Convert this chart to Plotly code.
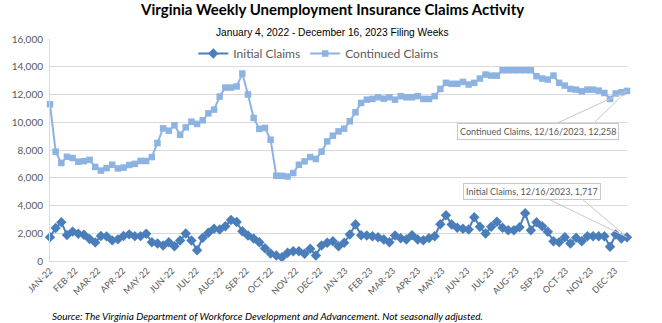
import plotly.graph_objects as go
import pandas as pd

# ---- data ----
last_week = "2023-12-16"
n_weeks = 103
initial_claims = [
    1718, 2380, 2800, 1870, 2120, 1960, 1890, 1590, 1340, 1800,
    1775, 1485, 1560, 1800, 1920, 1790, 1790, 1960, 1355, 1261,
    1117, 1355, 1067, 1477, 1982, 1477, 778, 1672, 2032, 2321,
    2270, 2508, 2960, 2810, 2148, 1838, 1620, 1355, 923, 541,
    396, 274, 591, 706, 706, 519, 879, 396, 1117, 1312,
    1427, 1067, 1312, 1910, 2631, 1860, 1838, 1787, 1715, 1550,
    1355, 1838, 1643, 1550, 1860, 1550, 1499, 1650, 1787, 2650,
    3300, 2631, 2393, 2321, 2270, 3157, 2465, 1982, 2465, 2825,
    2393, 2220, 2220, 2436, 3445, 2220, 2797, 2508, 2104, 1427,
    1355, 1715, 1261, 1672, 1427, 1787, 1787, 1787, 1787, 1024,
    1910, 1622, 1717,
]
continued_claims = [
    11300, 7880, 7060, 7510, 7420, 7160, 7200, 7290, 6780, 6520,
    6690, 6940, 6670, 6730, 6920, 7000, 7210, 7210, 7490, 8500,
    9560, 9390, 9780, 9100, 9630, 10040, 9880, 10140, 10640, 10910,
    11850, 12500, 12500, 12580, 13510, 12000, 10310, 9520, 9590, 8740,
    6140, 6140, 6090, 6340, 6940, 7180, 7490, 7350, 7880, 8620,
    9030, 9340, 9540, 10070, 10720, 11390, 11630, 11680, 11800, 11700,
    11800, 11630, 11880, 11800, 11800, 11880, 11680, 11680, 11880, 12400,
    12840, 12770, 12770, 12910, 12720, 12840, 13150, 13440, 13360, 13360,
    13750, 13750, 13750, 13750, 13750, 13750, 13320, 13150, 13080, 13360,
    12840, 12640, 12400, 12350, 12230, 12350, 12350, 12280, 12110, 11680,
    12070, 12160, 12258,
]
y_ticks = [0, 2000, 4000, 6000, 8000, 10000, 12000, 14000, 16000]
month_ticks = pd.date_range("2022-01-01", "2023-12-01", freq="MS")
month_labels = [d.strftime("%b-%y").upper() for d in month_ticks]

weeks = pd.date_range(end=last_week, periods=n_weeks, freq="7D")

C_INIT = "#4a7ebb"
C_CONT = "#8db3e2"
GRID = "#d9d9d9"
TXT = "#595959"
FONT = "Lato, 'Open Sans', sans-serif"

fig = go.Figure()
fig.add_trace(go.Scatter(
    x=weeks, y=initial_claims, name="Initial Claims", mode="lines+markers",
    line=dict(color=C_INIT, width=2),
    marker=dict(symbol="diamond", size=8, color=C_INIT),
    cliponaxis=False,
))
fig.add_trace(go.Scatter(
    x=weeks, y=continued_claims, name="Continued Claims", mode="lines+markers",
    line=dict(color=C_CONT, width=2),
    marker=dict(symbol="square", size=6.5, color=C_CONT),
    cliponaxis=False,
))

last_x = weeks[-1]
# callout labels with leader lines
callouts = [
    (continued_claims[-1], "Continued Claims, 12/16/2023, {:,}".format(continued_claims[-1]), -89, 41, -35, -34),
    (initial_claims[-1], "Initial Claims, 12/16/2023, {:,}".format(initial_claims[-1]), -95, -46, -47, 40),
]
for yv, txt, ax, ay, sx, sy in callouts:
    fig.add_annotation(
        x=last_x, y=yv, xref="x", yref="y", text=txt,
        showarrow=True, arrowhead=0, arrowwidth=1, arrowcolor="#c8c8c8",
        ax=ax, ay=ay, font=dict(family=FONT, size=9, color=TXT),
        bgcolor="white", bordercolor="#c8c8c8", borderwidth=1, borderpad=2,
    )
    fig.add_shape(
        type="line", xref="x", yref="y", xsizemode="pixel", ysizemode="pixel",
        xanchor=last_x, yanchor=yv, x0=0, y0=0, x1=sx, y1=sy,
        line=dict(color="#c8c8c8", width=1), layer="below",
    )

fig.add_annotation(
    text="<b>Virginia Weekly Unemployment Insurance Claims Activity</b>",
    xref="paper", yref="paper", x=0.489, y=1, yshift=30, xanchor="center", yanchor="middle",
    showarrow=False, font=dict(family=FONT, size=15, color="#000000"),
)
fig.add_annotation(
    text="January 4, 2022 - December 16, 2023 Filing Weeks",
    xref="paper", yref="paper", x=0.489, y=1, yshift=7, xanchor="center", yanchor="middle",
    showarrow=False, font=dict(family="'Liberation Sans Narrow', 'Arial Narrow', 'Liberation Sans', sans-serif", size=10.2, color="#000000"),
)
fig.add_annotation(
    text="<i>Source: The Virginia Department of Workforce Development and Advancement. Not seasonally adjusted.</i>",
    xref="paper", yref="paper", x=0.377, y=0, yshift=-55, xanchor="center", yanchor="middle",
    showarrow=False, font=dict(family=FONT, size=10, color="#000000"),
)

fig.update_layout(
    width=662, height=323,
    margin=dict(l=38, r=35, t=39, b=62),
    paper_bgcolor="white", plot_bgcolor="white",
    font=dict(family=FONT, color=TXT),
    showlegend=True,
    legend=dict(orientation="h", x=0.465, xanchor="center", y=0.935, yanchor="middle",
                font=dict(family=FONT, size=12, color=TXT), bgcolor="rgba(0,0,0,0)",
                itemwidth=30),
    xaxis=dict(
        type="date", range=[weeks[0], weeks[-1]],
        tickmode="array", tickvals=month_ticks, ticktext=month_labels,
        tickangle=-45, tickfont=dict(family=FONT, size=9, color=TXT),
        showgrid=False, showline=True, linecolor=GRID, linewidth=1,
        ticks="", zeroline=False,
    ),
    yaxis=dict(
        range=[0, 16000], tickvals=y_ticks, tickformat=",d",
        tickfont=dict(family=FONT, size=10, color=TXT),
        showgrid=True, gridcolor=GRID, gridwidth=1,
        showline=True, linecolor=GRID, linewidth=1,
        zeroline=False, ticks="", ticklabelstandoff=4,
    ),
)

fig.write_html("out.html")
